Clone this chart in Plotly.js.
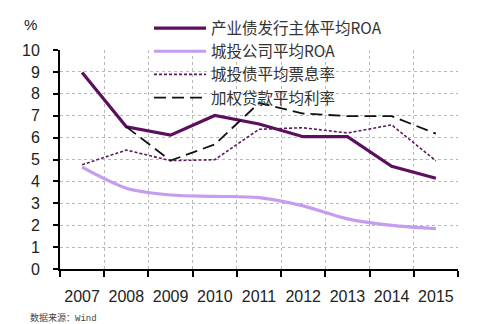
<!DOCTYPE html>
<html>
<head>
<meta charset="utf-8">
<script src="https://cdn.plot.ly/plotly-3.0.1.min.js"></script>
<style>
html,body{margin:0;padding:0;background:#fff;}
#chart{width:500px;height:324px;}
</style>
</head>
<body>
<div id="chart"></div>
<script>
const years = ['2007','2008','2009','2010','2011','2012','2013','2014','2015'];
const roaIndustrial = [8.97, 6.49, 6.11, 7.01, 6.62, 6.04, 6.04, 4.69, 4.14];
const roaChengtou   = [4.65, 3.69, 3.38, 3.32, 3.26, 2.88, 2.29, 1.99, 1.84];
const couponRate    = [4.76, 5.43, 4.95, 4.99, 6.38, 6.45, 6.21, 6.58, 4.94];
const loanRate      = [null, 6.49, 4.95, 5.69, 7.58, 7.10, 6.98, 6.98, 6.18];
const names = ['产业债发行主体平均ROA', '城投公司平均ROA', '城投债平均票息率', '加权贷款平均利率'];
const yTicks = [0,1,2,3,4,5,6,7,8,9,10];

const FONT = 'Liberation Sans, Arial, Noto Sans CJK SC, sans-serif';
const W = 398, H = 222, L = 60, B = 269;
const px = v => (v - L) / W;
const py = v => (B - v) / H;

const traces = [
  {x: years, y: roaIndustrial, name: names[0], type: 'scatter', mode: 'lines',
   line: {color: '#5b0f5e', width: 3.2}},
  {x: years, y: roaChengtou, name: names[1], type: 'scatter', mode: 'lines',
   line: {color: '#c59cf0', width: 3.2, shape: 'spline', smoothing: 0.8}},
  {x: years, y: couponRate, name: names[2], type: 'scatter', mode: 'lines',
   line: {color: '#5b1a5e', width: 1.6, dash: '3px,2px'}},
  {x: years, y: loanRate, name: names[3], type: 'scatter', mode: 'lines',
   line: {color: '#111111', width: 1.8, dash: '12px,6px'}}
];

const layout = {
  width: 500, height: 324,
  margin: {l: 60, r: 42, t: 47, b: 55},
  paper_bgcolor: '#fff', plot_bgcolor: '#fff',
  font: {family: FONT, color: '#222', size: 15},
  showlegend: true,
  legend: {
    x: px(149), y: py(8), xanchor: 'left', yanchor: 'top',
    bgcolor: 'rgba(255,255,255,0)', borderwidth: 0,
    font: {family: 'Noto Sans CJK SC, Liberation Sans, sans-serif', size: 15.5, color: '#333'},
    itemwidth: 52, tracegroupgap: 0
  },
  xaxis: {
    type: 'category', range: [-0.5, 8.5],
    tickson: 'boundaries', ticks: 'outside', ticklen: 6, tickwidth: 2, tickcolor: '#000',
    showline: true, linecolor: '#000', linewidth: 2,
    showgrid: true, gridcolor: '#b8b8b8', griddash: 'dot', gridwidth: 1,
    tickangle: 0, tickfont: {size: 16, color: '#222'}, ticklabelstandoff: 12,
    zeroline: false, fixedrange: true
  },
  yaxis: {
    range: [0, 10], tickvals: yTicks, ticktext: yTicks.map(String),
    ticks: 'outside', ticklen: 5, tickwidth: 2, tickcolor: '#000',
    showline: true, linecolor: '#000', linewidth: 2,
    showgrid: true, gridcolor: '#b8b8b8', griddash: 'dot', gridwidth: 1,
    tickfont: {size: 16, color: '#222'}, ticklabelstandoff: 10,
    zeroline: false, fixedrange: true
  },
  shapes: [
    {type: 'rect', xref: 'paper', yref: 'paper', layer: 'between',
     x0: px(152), x1: px(346), y0: py(37), y1: py(99),
     fillcolor: '#fff', line: {width: 0}}
  ],
  annotations: [
    {text: '%', xref: 'paper', yref: 'paper', x: px(30), y: py(21),
     xanchor: 'center', yanchor: 'middle', showarrow: false,
     font: {size: 15, color: '#222'}},
    {text: '数据来源：<span style="font-family:Liberation Mono">Wind</span>', xref: 'paper', yref: 'paper',
     x: px(28), y: py(318),
     xanchor: 'left', yanchor: 'middle', showarrow: false,
     font: {family: 'Noto Sans CJK SC, sans-serif', size: 9, color: '#444'}}
  ]
};

Plotly.newPlot('chart', traces, layout, {displayModeBar: false, staticPlot: true});
</script>
</body>
</html>
